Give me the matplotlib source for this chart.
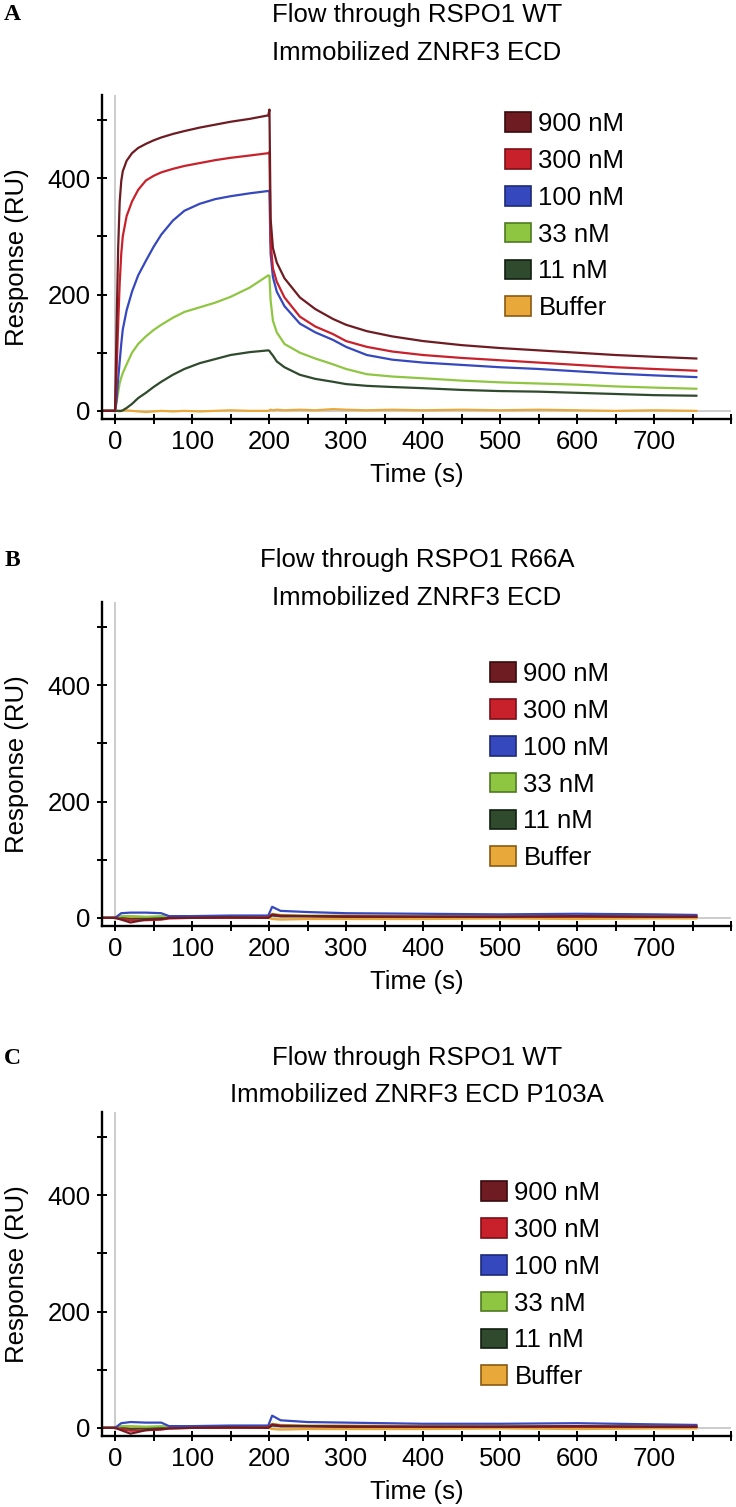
import matplotlib
matplotlib.use("Agg")
import matplotlib.pyplot as plt
from matplotlib.patches import Patch

plt.rcParams['font.family'] = ['Liberation Sans', 'DejaVu Sans']

# concentrations / legend
labels = ['900 nM', '300 nM', '100 nM', '33 nM', '11 nM', 'Buffer']
colors = ['#6e1c22', '#c9212b', '#3548bd', '#8fc641', '#2f4a2c', '#e9a83a']
edges = ['#3a0a0e', '#7a1018', '#1c2a78', '#4f7a20', '#111f10', '#8a5a10']

# panel A: RSPO1 WT over ZNRF3 ECD (RU)
t_a = [-15, 0, 2, 4, 6, 8, 10, 15, 22, 30, 40, 50, 60, 75, 90, 110, 130, 150, 175, 199,
       200.5, 202, 205, 210, 220, 240, 260, 283, 300, 327, 360, 400, 450, 500, 550,
       600, 650, 700, 755]
a_900 = [0, 0, 150, 280, 360, 395, 412, 430, 443, 452, 459, 465, 470, 476, 481, 487, 492,
         497, 502, 508, 518, 330, 280, 255, 228, 195, 175, 158, 148, 137, 128, 120, 113,
         108, 104, 100, 96, 93, 90]
a_300 = [0, 0, 70, 150, 220, 270, 300, 335, 360, 380, 396, 404, 410, 416, 421, 426, 431,
         435, 439, 443, 445, 290, 245, 222, 195, 162, 145, 132, 120, 110, 102, 96, 91,
         87, 83, 79, 75, 72, 69]
a_100 = [0, 0, 20, 55, 85, 115, 140, 173, 205, 233, 258, 282, 303, 327, 344, 356, 364,
         369, 374, 378, 378, 270, 230, 205, 180, 150, 135, 122, 110, 96, 88, 83, 79,
         75, 72, 68, 64, 61, 58]
a_33 = [0, 0, 15, 32, 48, 57, 65, 80, 100, 115, 128, 139, 148, 160, 170, 178, 186,
        196, 212, 233, 232, 190, 155, 135, 115, 100, 90, 80, 72, 63, 59, 56, 52,
        49, 47, 45, 42, 40, 38]
a_11 = [0, 0, 0, 0, 0, 0, 1, 5, 12, 22, 31, 41, 50, 62, 72, 82, 89,
        96, 101, 104, 103, 100, 95, 85, 75, 62, 55, 50, 46, 43, 41, 39, 36,
        34, 33, 31, 29, 27, 26]
a_buf = [0, 0, 0, 0, -1, 0, 0, 1, 0, -1, -2, -1, 0, -1, 0, -1, 0,
         1, 0, 0, 1, 2, 1, 2, 1, 2, 1, 3, 2, 1, 2, 1, 2,
         1, 2, 1, 0, 1, 0]

# panels B and C: barely any binding
t_low = [-15, 0, 8, 20, 40, 60, 70, 100, 150, 199, 204, 215, 250, 300, 400, 500, 600, 700, 755]
b_900 = [0, 0, -3, -8, -3, -2, 0, 0, 1, 0, 5, 3, 3, 2, 2, 2, 3, 2, 2]
b_300 = [0, 0, -2, -4, -4, -3, -1, 0, 0, 1, 6, 4, 3, 3, 2, 2, 2, 2, 2]
b_100 = [0, 0, 8, 9, 9, 8, 3, 3, 4, 4, 19, 12, 10, 8, 7, 6, 7, 6, 5]
b_33 = [0, 0, 3, 3, 2, 3, 2, 2, 2, 2, 7, 5, 4, 4, 3, 3, 3, 3, 3]
b_11 = [0, 0, 0, -2, -1, 0, 0, 1, 0, 1, 4, 3, 3, 2, 2, 2, 2, 2, 2]
b_buf = [0, 0, 1, 2, 1, 0, 1, 0, 0, 0, -2, -3, -2, -2, -2, -1, -2, -1, -1]

c_900 = [0, 0, -4, -10, -4, -2, -1, 0, 1, 0, 5, 3, 3, 2, 2, 2, 3, 2, 2]
c_300 = [0, 0, -2, -5, -4, -3, -1, 0, 0, 1, 6, 4, 3, 3, 2, 2, 2, 2, 2]
c_100 = [0, 0, 8, 10, 9, 9, 3, 3, 4, 4, 21, 13, 10, 9, 7, 7, 8, 6, 5]
c_33 = [0, 0, 3, 3, 2, 3, 2, 2, 2, 2, 7, 5, 4, 4, 3, 3, 3, 3, 3]
c_11 = [0, 0, 0, -2, -1, 0, 0, 1, 0, 1, 4, 3, 3, 2, 2, 2, 2, 2, 2]
c_buf = [0, 0, 1, 2, 1, 0, 1, 0, 0, 0, -2, -3, -2, -2, -2, -1, -2, -1, -1]

titles = [('Flow through RSPO1 WT', 'Immobilized ZNRF3 ECD'),
          ('Flow through RSPO1 R66A', 'Immobilized ZNRF3 ECD'),
          ('Flow through RSPO1 WT', 'Immobilized ZNRF3 ECD P103A')]
letters = ['A', 'B', 'C']

W, H = 736, 1507
fig = plt.figure(figsize=(W / 100, H / 100), dpi=100)

panels = [
    dict(t=t_a, ys=[a_900, a_300, a_100, a_33, a_11, a_buf], bottom=419,
         title_y=(15, 53), leg=(505, 112)),
    dict(t=t_low, ys=[b_900, b_300, b_100, b_33, b_11, b_buf], bottom=926,
         title_y=(560, 598), leg=(490, 662)),
    dict(t=t_low, ys=[c_900, c_300, c_100, c_33, c_11, c_buf], bottom=1436,
         title_y=(1058, 1095), leg=(481, 1181)),
]

fs = 18.5
for i, p in enumerate(panels):
    ax = fig.add_axes([102 / W, 1 - p['bottom'] / H, 629 / W, 324 / H])
    ax.axvline(0, color='#c4c4c4', lw=1.2, zorder=0)
    ax.axhline(0, color='#c4c4c4', lw=1.2, zorder=0)
    # buffer drawn first so the others sit on top
    for k in [5, 4, 3, 2, 1, 0]:
        ax.plot(p['t'], p['ys'][k], color=colors[k], lw=1.6, zorder=2)
    ax.set_xlim(-17, 800)
    ax.set_ylim(-14, 543)
    for s in ['top', 'right']:
        ax.spines[s].set_visible(False)
    for s in ['left', 'bottom']:
        ax.spines[s].set_linewidth(1.7)
    ax.set_xticks(range(0, 801, 50))
    ax.set_xticklabels([str(v) if v % 100 == 0 and v <= 700 else '' for v in range(0, 801, 50)])
    ax.set_yticks(range(0, 501, 100))
    ax.set_yticklabels([str(v) if v % 200 == 0 else '' for v in range(0, 501, 100)])
    ax.tick_params(direction='inout', length=6.5, width=1.4, labelsize=fs, pad=5)
    ax.set_xlabel('Time (s)', fontsize=fs)
    ax.set_ylabel('Response (RU)', fontsize=fs)
    ax.xaxis.set_label_coords(0.5, -0.135)
    ax.yaxis.set_label_coords(-0.116, 0.5)

    handles = [Patch(facecolor=colors[k], edgecolor=edges[k], lw=1.2) for k in range(6)]
    ax.legend(handles, labels, loc='upper left',
              bbox_to_anchor=(p['leg'][0] / W, 1 - p['leg'][1] / H),
              bbox_transform=fig.transFigure, frameon=False, fontsize=fs,
              handlelength=1.0, handleheight=0.8, handletextpad=0.3,
              labelspacing=0.5, borderpad=0, borderaxespad=0)

    fig.text(417 / W, 1 - p['title_y'][0] / H, titles[i][0], fontsize=fs,
             ha='center', va='center')
    fig.text(417 / W, 1 - p['title_y'][1] / H, titles[i][1], fontsize=fs,
             ha='center', va='center')
    fig.text(12 / W, 1 - p['title_y'][0] / H, letters[i], fontsize=17,
             fontweight='bold', family='Liberation Serif', ha='center', va='center')

fig.savefig('out.png', dpi=100)
